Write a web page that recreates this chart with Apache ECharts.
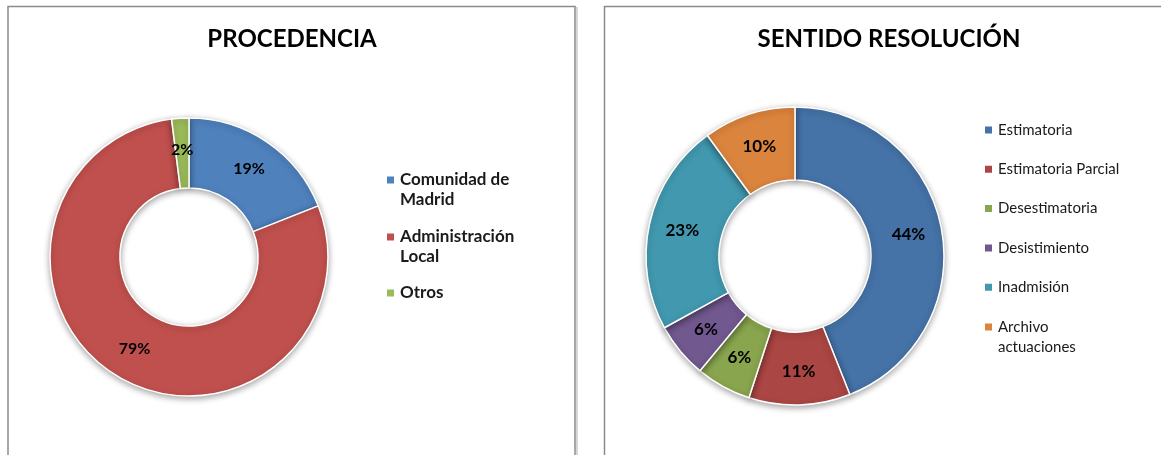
<!DOCTYPE html>
<html>
<head>
<meta charset="utf-8">
<script src="https://cdn.jsdelivr.net/npm/echarts@6/dist/echarts.min.js"></script>
<style>
  html, body { margin: 0; padding: 0; background: #fff; }
  #main { width: 1161px; height: 455px; }
</style>
</head>
<body>
<div id="main"></div>
<script>
// PROCEDENCIA
const procCats = ['Comunidad de Madrid', 'Administración Local', 'Otros'];
const procVals = [19, 79, 2];
const procColors = ['#4F81BD', '#C0504D', '#9BBB59'];

// SENTIDO RESOLUCIÓN
const resCats = ['Estimatoria', 'Estimatoria Parcial', 'Desestimatoria', 'Desistimiento', 'Inadmisión', 'Archivo actuaciones'];
const resVals = [44, 11, 6, 6, 23, 10];
const resColors = ['#4572A7', '#AA4643', '#89A54E', '#71588F', '#4198AF', '#DB843D'];

// legend names that wrap in two lines (leading empty line keeps the
// square next to the first line, like Excel does)
const wrapNames = {
  'Comunidad de Madrid': '\nComunidad de\nMadrid',
  'Administración Local': '\nAdministración\nLocal',
  'Archivo actuaciones': '\nArchivo\nactuaciones'
};

const FONT = 'Lato, "Open Sans", sans-serif';
const chart = echarts.init(document.getElementById('main'));

const ringStyle = {
  borderColor: '#fff',
  borderWidth: 1.5,
  shadowBlur: 6,
  shadowOffsetY: 2,
  shadowColor: 'rgba(0,0,0,0.35)'
};

const legendBase = {
  orient: 'vertical',
  padding: 0,
  itemWidth: 9,
  itemHeight: 9,
  itemGap: 0,
  icon: 'rect',
  formatter: n => wrapNames[n] || n
};
const leftText = { fontFamily: FONT, fontSize: 17, fontWeight: 'bold', color: '#1a1a1a', lineHeight: 20 };
const rightText = { fontFamily: FONT, fontSize: 15, color: '#1a1a1a', lineHeight: 20 };

const option = {
  backgroundColor: '#fff',
  animation: false,
  title: [
    { text: 'PROCEDENCIA', left: 287, top: 22, textAlign: 'center',
      textStyle: { fontFamily: FONT, fontSize: 24, fontWeight: 'bold', color: '#000' } },
    { text: 'SENTIDO RESOLUCIÓN', left: 884, top: 22, textAlign: 'center',
      textStyle: { fontFamily: FONT, fontSize: 24, fontWeight: 'bold', color: '#000' } }
  ],
  legend: [
    Object.assign({}, legendBase, {
      left: 385, top: 150, itemGap: -3,
      data: procCats.slice(0, 2),
      textStyle: leftText
    }),
    Object.assign({}, legendBase, {
      left: 385, top: 283,
      data: procCats.slice(2),
      textStyle: leftText
    }),
    Object.assign({}, legendBase, {
      left: 983, top: 120, itemGap: 19.3,
      data: resCats.slice(0, 5),
      textStyle: rightText
    }),
    Object.assign({}, legendBase, {
      left: 983, top: 297,
      data: resCats.slice(5),
      textStyle: rightText
    })
  ],
  graphic: [
    { type: 'rect', shape: { x: 8, y: 6.5, width: 567, height: 470 },
      style: { fill: 'none', stroke: '#8a8a8a', lineWidth: 1.5 } },
    { type: 'line', shape: { x1: 577, y1: 7, x2: 577, y2: 455 },
      style: { stroke: '#c8c8c8', lineWidth: 1.5 } },
    { type: 'rect', shape: { x: 604.5, y: 6.5, width: 600, height: 470 },
      style: { fill: 'none', stroke: '#8a8a8a', lineWidth: 1.5 } }
  ],
  series: [
    {
      type: 'pie',
      center: [189, 257],
      radius: [69, 139],
      startAngle: 90,
      clockwise: true,
      avoidLabelOverlap: false,
      data: procCats.map((n, i) => ({ name: n, value: procVals[i], itemStyle: { color: procColors[i] } })),
      itemStyle: ringStyle,
      label: {
        position: 'inside',
        formatter: p => p.value + '%',
        fontFamily: FONT, fontSize: 16, fontWeight: 'bold', color: '#000'
      },
      labelLine: { show: false },
      emphasis: { scale: false }
    },
    {
      type: 'pie',
      center: [795, 256],
      radius: [76, 149],
      startAngle: 90,
      clockwise: true,
      avoidLabelOverlap: false,
      data: resCats.map((n, i) => ({ name: n, value: resVals[i], itemStyle: { color: resColors[i] } })),
      itemStyle: ringStyle,
      label: {
        position: 'inside',
        formatter: p => p.value + '%',
        fontFamily: FONT, fontSize: 17, fontWeight: 'bold', color: '#000'
      },
      labelLine: { show: false },
      emphasis: { scale: false }
    }
  ]
};

chart.setOption(option);
</script>
</body>
</html>
